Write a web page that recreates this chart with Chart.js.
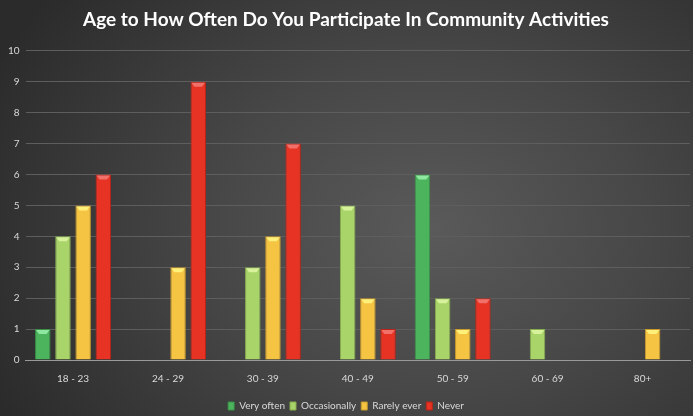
<!DOCTYPE html>
<html>
<head>
<meta charset="utf-8">
<script src="https://cdn.jsdelivr.net/npm/chart.js@4.4.0/dist/chart.umd.min.js"></script>
<style>
html,body{margin:0;padding:0;}
body{width:693px;height:416px;overflow:hidden;background:radial-gradient(ellipse 70% 90% at 62% 55%, #5a5a5a 0%, #474747 45%, #2b2b2b 100%);}
#wrap{position:relative;width:693px;height:416px;}
</style>
</head>
<body>
<div id="wrap"><canvas id="c" width="693" height="416"></canvas></div>
<script>
const categories = ["18 - 23","24 - 29","30 - 39","40 - 49","50 - 59","60 - 69","80+"];
const seriesNames = ["Very often","Occasionally","Rarely ever","Never"];
const veryOften = [1,0,0,0,6,0,0];
const occasionally = [4,0,3,5,2,1,0];
const rarelyEver = [5,3,4,2,1,0,1];
const never = [6,9,7,1,2,0,0];
const yTicks = [0,1,2,3,4,5,6,7,8,9,10];

const fills = ["#4db45e","#a9d46a","#f6c443","#e63323"];
const tops = ["#8ee8a0","#d8f29c","#fff07a","#f2706a"];
const borders = ["#3a9048","#86ad4e","#c99a2c","#b82418"];

const bevel = {
  id:'bevel',
  afterDatasetsDraw(chart){
    const ctx = chart.ctx;
    chart.data.datasets.forEach((ds,i)=>{
      const meta = chart.getDatasetMeta(i);
      meta.data.forEach((bar,j)=>{
        if(!ds.data[j]) return;
        const w = bar.width, x0 = bar.x - w/2, x1 = bar.x + w/2, y = bar.y;
        ctx.save();
        ctx.fillStyle = tops[i];
        ctx.beginPath();
        ctx.moveTo(x0+1,y+1);ctx.lineTo(x1-1,y+1);ctx.lineTo(x1-4,y+5);ctx.lineTo(x0+4,y+5);ctx.closePath();
        ctx.fill();
        ctx.restore();
      });
    });
  }
};

const data = {
  labels: categories,
  datasets: [veryOften, occasionally, rarelyEver, never].map((d,i)=>({
    label: seriesNames[i],
    data: d,
    backgroundColor: fills[i],
    borderColor: borders[i],
    borderWidth: 1,
    categoryPercentage: 0.85,
    barPercentage: 0.77
  }))
};

new Chart(document.getElementById('c'), {
  type:'bar',
  data,
  plugins:[bevel],
  options:{
    responsive:false,
    animation:false,
    layout:{padding:{left:2,right:3,top:4,bottom:-5}},
    plugins:{
      title:{display:true,text:'Age to How Often Do You Participate In Community Activities',color:'#ffffff',font:{family:'Lato',size:19,weight:'bold'},padding:{top:4,bottom:20}},
      legend:{position:'bottom',labels:{color:'#d9d9d9',font:{family:'Lato',size:10},boxWidth:6,boxHeight:8,padding:5}},
      tooltip:{enabled:false}
    },
    scales:{
      x:{
        grid:{display:false},
        border:{color:'#9a9a9a',width:1},
        ticks:{color:'#d9d9d9',font:{family:'Lato',size:10},padding:5},
        afterFit(scale){scale.height += 6;}
      },
      y:{
        min:0,max:10,
        afterBuildTicks(axis){axis.ticks = yTicks.map(v=>({value:v}));},
        grid:{color:'#5e5e5e',lineWidth:1,drawTicks:false},
        border:{display:false},
        ticks:{color:'#d9d9d9',font:{family:'Lato',size:10},padding:6}
      }
    }
  }
});
</script>
</body>
</html>
